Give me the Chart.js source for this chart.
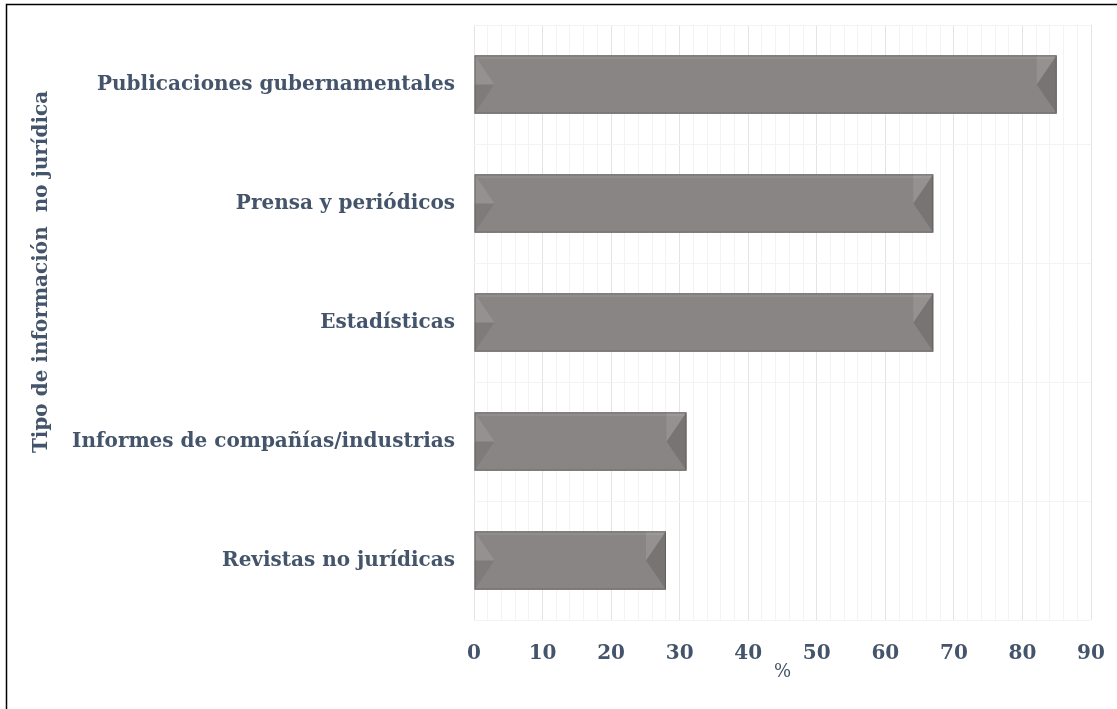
<!DOCTYPE html>
<html>
<head>
<meta charset="utf-8">
<script src="https://cdn.jsdelivr.net/npm/chart.js@4"></script>
<style>
  html, body { margin: 0; padding: 0; background: #fff; }
  #wrap { width: 1117px; height: 709px; position: relative; }
</style>
</head>
<body>
<div id="wrap"><canvas id="chart"></canvas></div>
<script>
// Data
const categories = [
  'Publicaciones gubernamentales',
  'Prensa y periódicos',
  'Estadísticas',
  'Informes de compañías/industrias',
  'Revistas no jurídicas'
];
const values = [85, 67, 67, 31, 28];
const xTicks = [0, 10, 20, 30, 40, 50, 60, 70, 80, 90];

const textColor = '#44546a';
const labelFont = { family: 'DejaVu Serif', size: 20, weight: 'bold' };

// outer frame + y-axis title
const framePlugin = {
  id: 'frame',
  afterDraw(chart) {
    const ctx = chart.ctx;
    ctx.save();
    ctx.strokeStyle = '#000';
    ctx.lineWidth = 1.5;
    ctx.beginPath();
    ctx.moveTo(6.5, 709);
    ctx.lineTo(6.5, 4.5);
    ctx.lineTo(1117, 4.5);
    ctx.stroke();

    ctx.translate(42, 272);
    ctx.rotate(-Math.PI / 2);
    ctx.fillStyle = textColor;
    ctx.font = 'bold 20px "DejaVu Serif"';
    ctx.textAlign = 'center';
    ctx.textBaseline = 'middle';
    ctx.fillText('Tipo de información  no jurídica', 0, 0);
    ctx.restore();
  }
};

// bevel effect on the bars
const bevelPlugin = {
  id: 'bevel',
  afterDatasetsDraw(chart) {
    const ctx = chart.ctx;
    const meta = chart.getDatasetMeta(0);
    meta.data.forEach(bar => {
      const left = bar.base, right = bar.x;
      const top = bar.y - bar.height / 2, bottom = bar.y + bar.height / 2;
      const mid = bar.y;
      const d = 20;
      ctx.save();
      // top highlight strip
      ctx.fillStyle = 'rgba(255,255,255,0.07)';
      ctx.beginPath();
      ctx.moveTo(left, top); ctx.lineTo(right, top);
      ctx.lineTo(right - 4, top + 4); ctx.lineTo(left + 4, top + 4);
      ctx.closePath(); ctx.fill();
      // left end: light upper, dark lower
      ctx.fillStyle = 'rgba(255,255,255,0.10)';
      ctx.beginPath();
      ctx.moveTo(left, top); ctx.lineTo(left + d, mid); ctx.lineTo(left, mid);
      ctx.closePath(); ctx.fill();
      ctx.fillStyle = 'rgba(0,0,0,0.07)';
      ctx.beginPath();
      ctx.moveTo(left, mid); ctx.lineTo(left + d, mid); ctx.lineTo(left, bottom);
      ctx.closePath(); ctx.fill();
      // right end: light triangle top, dark remainder
      ctx.fillStyle = 'rgba(0,0,0,0.12)';
      ctx.beginPath();
      ctx.moveTo(right, top); ctx.lineTo(right - d, mid); ctx.lineTo(right, bottom);
      ctx.closePath(); ctx.fill();
      ctx.fillStyle = 'rgba(255,255,255,0.10)';
      ctx.beginPath();
      ctx.moveTo(right, top); ctx.lineTo(right - d, mid); ctx.lineTo(right - d, top);
      ctx.closePath(); ctx.fill();
      // outline
      ctx.strokeStyle = 'rgba(95,90,90,0.8)';
      ctx.lineWidth = 1;
      ctx.strokeRect(left + 0.5, top + 0.5, right - left - 1, bottom - top - 1);
      ctx.restore();
    });
  }
};

const ctx = document.getElementById('chart').getContext('2d');
const chart = new Chart(ctx, {
  type: 'bar',
  data: {
    labels: categories,
    datasets: [{
      data: values,
      backgroundColor: function(c) {
        const bar = c.element;
        if (!bar || bar.height === undefined) return '#8a8585';
        const top = bar.y - bar.height / 2, bottom = bar.y + bar.height / 2;
        if (!isFinite(top) || !isFinite(bottom) || top === bottom) return '#8a8585';
        const g = c.chart.ctx.createLinearGradient(0, top, 0, bottom);
        g.addColorStop(0, '#aaa4a4');
        g.addColorStop(0.25, '#948e8e');
        g.addColorStop(1, '#767272');
        return g;
      },
      borderWidth: 0,
      barPercentage: 0.49,
      categoryPercentage: 1
    }]
  },
  options: {
    indexAxis: 'y',
    responsive: true,
    maintainAspectRatio: false,
    animation: false,
    layout: { padding: { top: 25, right: 26, bottom: 26, left: 0 } },
    plugins: {
      legend: { display: false },
      tooltip: { enabled: false }
    },
    scales: {
      x: {
        min: 0,
        max: 90,
        afterFit(scale) {
          scale.height = 63;
          scale.paddingLeft = 0;
          scale.paddingRight = 0;
        },
        afterBuildTicks(scale) {
          const t = [];
          for (let v = 0; v <= 90; v += 2) t.push({ value: v });
          scale.ticks = t;
        },
        grid: {
          drawTicks: false,
          color: c => (c.tick && c.tick.value % 10 === 0) ? '#e4e4e4' : '#f3f3f3'
        },
        border: { display: false },
        ticks: {
          autoSkip: false,
          maxRotation: 0,
          padding: 22,
          color: textColor,
          font: labelFont,
          callback: v => xTicks.includes(v) ? String(v) : ''
        },
        title: {
          display: true,
          text: '%',
          color: textColor,
          font: { family: 'DejaVu Serif', size: 18, weight: 'normal' },
          padding: { top: 0, bottom: 0 }
        }
      },
      y: {
        afterFit(scale) {
          scale.width = 474;
          scale.paddingTop = 0;
          scale.paddingBottom = 0;
        },
        grid: { offset: true, drawTicks: false, color: '#f3f3f3' },
        border: { display: false },
        ticks: {
          padding: 19,
          color: textColor,
          font: labelFont
        }
      }
    }
  },
  plugins: [framePlugin, bevelPlugin]
});
</script>
</body>
</html>
